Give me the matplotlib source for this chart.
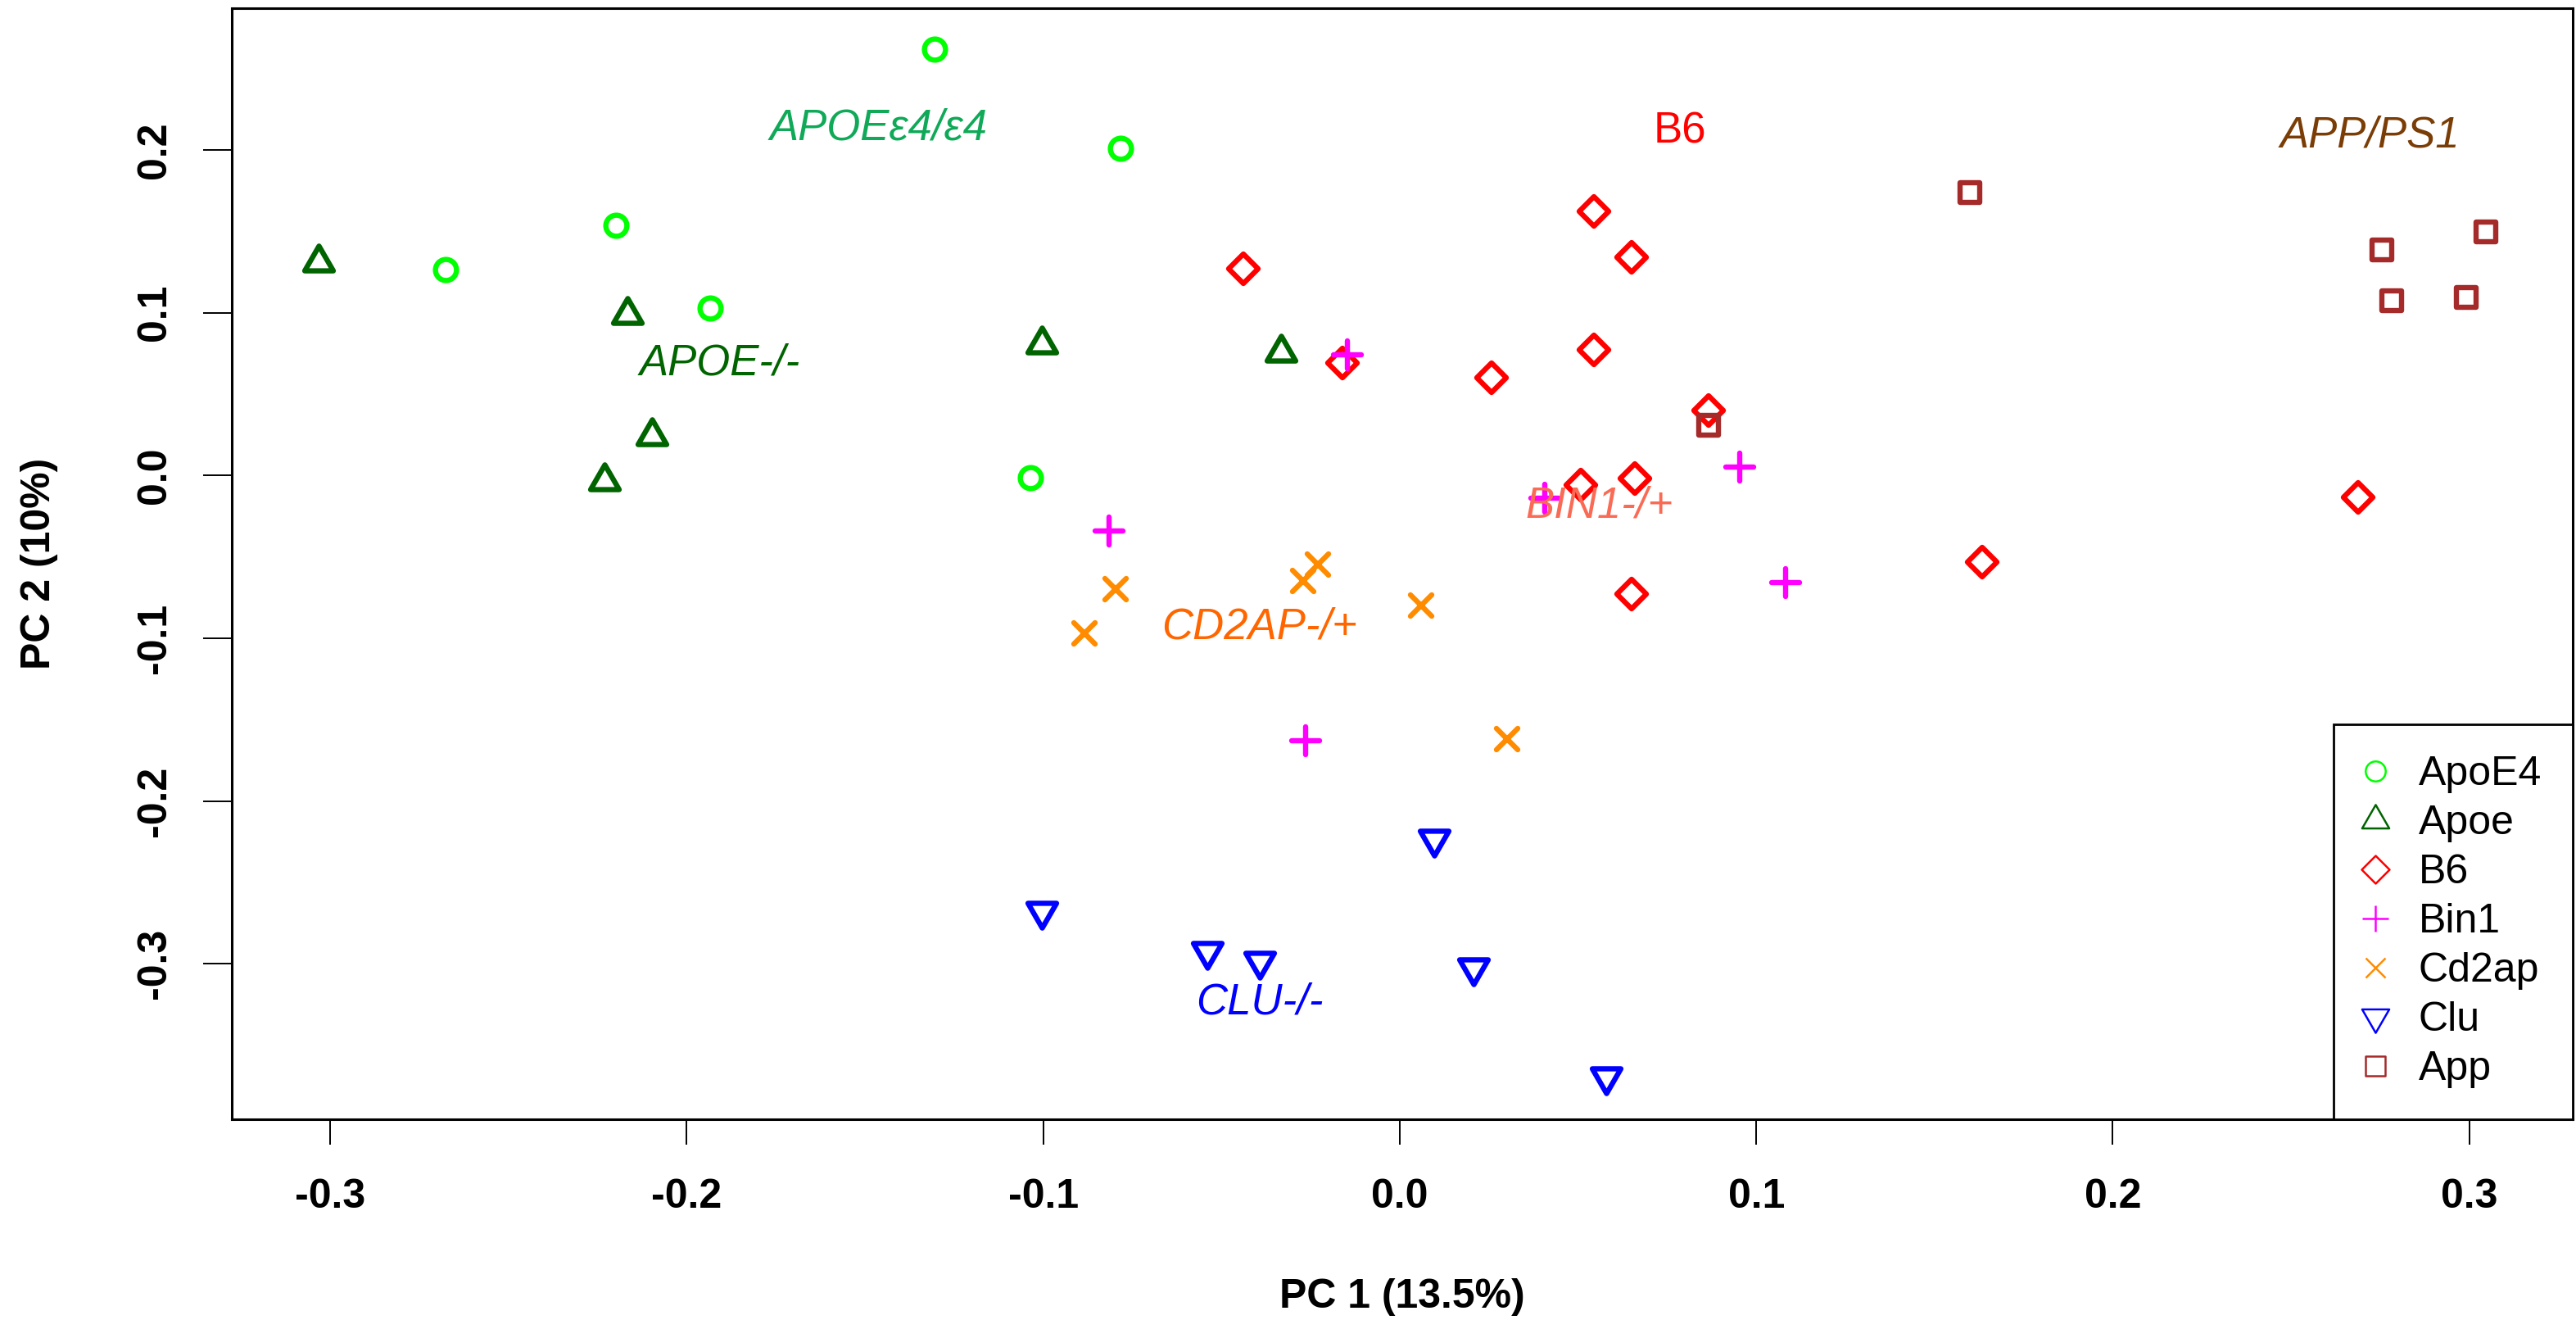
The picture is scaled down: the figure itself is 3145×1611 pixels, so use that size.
import matplotlib
matplotlib.use("Agg")
import matplotlib.pyplot as plt
from matplotlib.lines import Line2D
from matplotlib.markers import MarkerStyle
from matplotlib.path import Path

plt.rcParams['font.family'] = ['Liberation Sans', 'DejaVu Sans']

# ---------------- data (PC1, PC2) ----------------
groups = ["ApoE4", "Apoe", "B6", "Bin1", "Cd2ap", "Clu", "App"]

apoe4_x = [-0.1305, -0.0783, -0.2198, -0.2677, -0.1935, -0.1037]
apoe4_y = [0.2620, 0.2010, 0.1535, 0.1263, 0.1030, -0.0015]

apoe_x = [-0.3033, -0.2166, -0.2097, -0.2230, -0.1005, -0.0332]
apoe_y = [0.1310, 0.0990, 0.0245, -0.0035, 0.0805, 0.0755]

b6_x = [-0.0438, 0.0544, 0.0650, -0.0161, 0.0544, 0.0258, 0.0866, 0.0507, 0.0659, 0.0650, 0.1633, 0.2687]
b6_y = [0.1270, 0.1620, 0.1340, 0.0690, 0.0770, 0.0600, 0.0400, -0.0060, -0.0020, -0.0730, -0.0530, -0.0136]

bin1_x = [-0.0147, 0.0406, 0.0954, -0.0816, 0.1083, -0.0263]
bin1_y = [0.0740, -0.0140, 0.0050, -0.0340, -0.0660, -0.1630]

cd2ap_x = [-0.0885, -0.0797, -0.0230, -0.0272, 0.0060, 0.0300]
cd2ap_y = [-0.0970, -0.0700, -0.0550, -0.0650, -0.0800, -0.1620]

clu_x = [-0.1005, -0.0539, -0.0392, 0.0097, 0.0207, 0.0580]
clu_y = [-0.2675, -0.2925, -0.2985, -0.2235, -0.3025, -0.3695]

app_x = [0.1598, 0.0866, 0.2755, 0.3047, 0.2783, 0.2992]
app_y = [0.1737, 0.0310, 0.1385, 0.1496, 0.1072, 0.1093]

# annotation labels
ann_text = ["APOE\u03b54/\u03b54", "APOE-/-", "B6", "APP/PS1", "BIN1-/+", "CD2AP-/+", "CLU-/-"]
ann_x = [-0.1463, -0.1908, 0.0785, 0.2721, 0.0560, -0.0393, -0.0393]
ann_y = [0.2135, 0.0690, 0.2115, 0.2085, -0.0186, -0.0931, -0.3238]
ann_color = ["#0FA958", "#006400", "#FF0000", "#7A3D06", "#FA6B55", "#FF6600", "#0000FF"]
ann_style = ["italic", "italic", "normal", "italic", "italic", "italic", "italic"]

xticks = [-0.3, -0.2, -0.1, 0.0, 0.1, 0.2, 0.3]
yticks = [-0.3, -0.2, -0.1, 0.0, 0.1, 0.2]
xlabel = "PC 1 (13.5%)"
ylabel = "PC 2 (10%)"

# ---------------- styles ----------------
s3 = 0.8660254
tri_up = Path([(0, 1), (-s3, -0.5), (s3, -0.5), (0, 1)], closed=True)
tri_dn = Path([(0, -1), (-s3, 0.5), (s3, 0.5), (0, -1)], closed=True)
colors = ["#00FF00", "#006400", "#FF0000", "#FF00FF", "#FF8C00", "#0000FF", "#A52A2A"]
markers = ["o", tri_up, "D", "+", "x", tri_dn, "s"]
msizes = [18.5, 29, 18.3, 25, 18.7, 29, 17.5]
xs = [apoe4_x, apoe_x, b6_x, bin1_x, cd2ap_x, clu_x, app_x]
ys = [apoe4_y, apoe_y, b6_y, bin1_y, cd2ap_y, clu_y, app_y]

W, H = 3145, 1611
fig = plt.figure(figsize=(W / 100, H / 100), dpi=100)
L, R, T, B = 283, 3141, 10, 1366
ax = fig.add_axes([L / W, 1 - B / H, (R - L) / W, (B - T) / H])

for i in range(len(groups)):
    ms = MarkerStyle(markers[i], joinstyle="round", capstyle="round")
    ax.plot(xs[i], ys[i], linestyle="none", marker=ms, markersize=msizes[i],
            markerfacecolor="none", markeredgecolor=colors[i], markeredgewidth=4.6)

for t, x, y, c, s in zip(ann_text, ann_x, ann_y, ann_color, ann_style):
    ax.text(x, y, t, color=c, fontsize=38, style=s, ha="center", va="center")

ax.set_xlim(-0.3276, 0.3290)
ax.set_ylim(-0.3955, 0.2870)
ax.set_xticks(xticks)
ax.set_xticklabels([f"{v:.1f}" for v in xticks], fontweight="bold", fontsize=36)
ax.set_yticks(yticks)
ax.set_yticklabels([f"{v:.1f}" for v in yticks], fontweight="bold", fontsize=36,
                   rotation=90, va="center")
ax.tick_params(axis="x", length=22, width=1.4, pad=30)
ax.tick_params(axis="y", length=25, width=1.4, pad=26)
for sp in ax.spines.values():
    sp.set_linewidth(2.2)

ax.set_xlabel(xlabel, fontsize=36, fontweight="bold")
ax.xaxis.set_label_coords(0.5, -(1583 - B) / (B - T))
ax.xaxis.label.set_va("center")
ax.set_ylabel(ylabel, fontsize=36, fontweight="bold")
ax.yaxis.set_label_coords(-(L - 48) / (R - L), 0.5)
ax.yaxis.label.set_va("center")

handles = [Line2D([], [], linestyle="none",
                  marker=MarkerStyle(markers[i], joinstyle="round"),
                  markersize=msizes[i] * 0.95, markerfacecolor="none",
                  markeredgecolor=colors[i], markeredgewidth=1.8)
           for i in range(len(groups))]
leg = ax.legend(handles, groups, loc="lower right", bbox_to_anchor=(1, 0),
                borderaxespad=0, fontsize=36, frameon=True, fancybox=False,
                edgecolor="black", framealpha=1, borderpad=0.76,
                labelspacing=0.28, handlelength=0.52, handletextpad=0.8)
leg.get_frame().set_linewidth(2.0)

fig.savefig("out.png", dpi=100, facecolor="white")
